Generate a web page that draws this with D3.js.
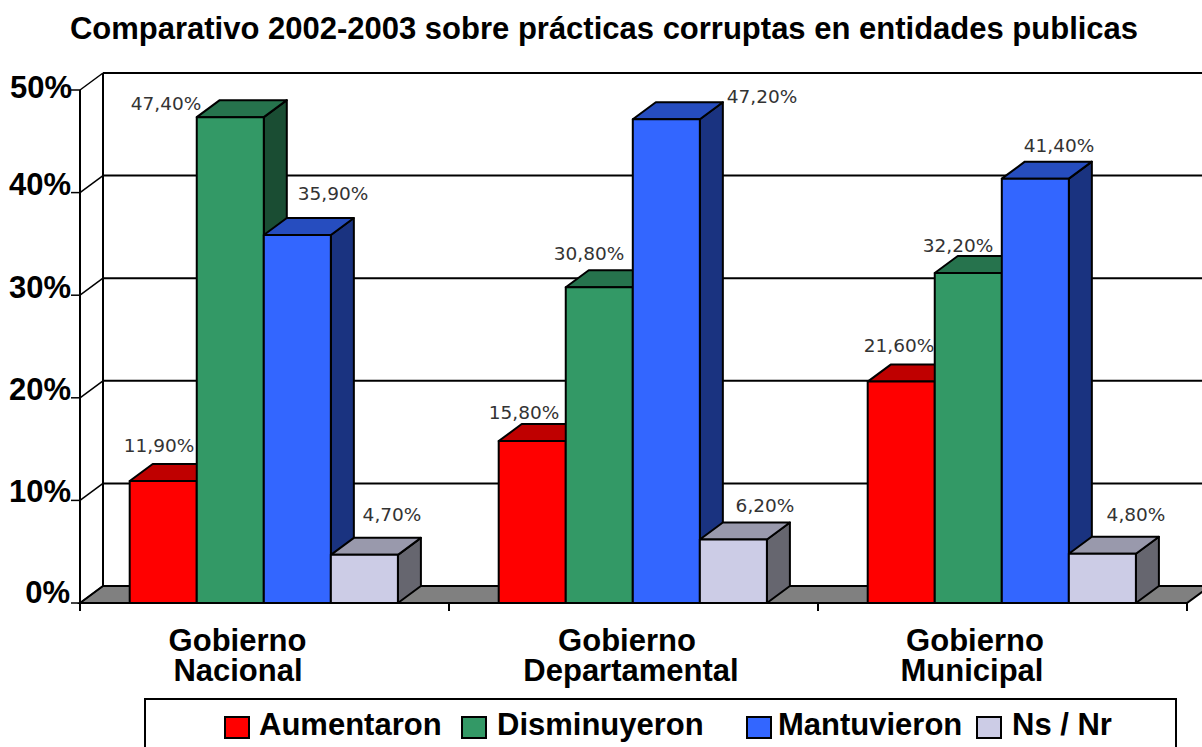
<!DOCTYPE html>
<html><head><meta charset="utf-8">
<script src="https://cdnjs.cloudflare.com/ajax/libs/d3/7.8.5/d3.min.js"></script>
<style>html,body{margin:0;padding:0;background:#fff;overflow:hidden}svg{display:block}text{font-family:"Liberation Sans",Arial,sans-serif}</style>
</head><body><svg id="c" width="1202" height="747"></svg>
<script>
const title = "Comparativo 2002-2003 sobre prácticas corruptas en entidades publicas";
const categories = ["Gobierno Nacional","Gobierno Departamental","Gobierno Municipal"];
const series = ["Aumentaron","Disminuyeron","Mantuvieron","Ns / Nr"];
const aumentaron = [11.9,15.8,21.6];
const disminuyeron = [47.4,30.8,32.2];
const mantuvieron = [35.9,47.2,41.4];
const nsNr = [4.7,6.2,4.8];
const valueLabels = [["11,90%","15,80%","21,60%"],["47,40%","30,80%","32,20%"],["35,90%","47,20%","41,40%"],["4,70%","6,20%","4,80%"]];
const yTicks = [0,10,20,30,40,50];
const fronts = ["#ff0000","#339966","#3366ff","#cccce6"];
const tops = ["#bf0000","#26734d","#264dbf","#9999ac"];
const sides = ["#800000","#1a4d33","#1a3380","#66666f"];

// layout
const values = [aumentaron,disminuyeron,mantuvieron,nsNr];
const dx = 23, dy = -17;
const x0 = d3.scaleBand().domain(categories).range([80,1187]);
const x1 = d3.scaleBand().domain(series).range([49.7,317.9]);
const y = d3.scaleLinear().domain([0,50]).range([603,90]);
const yBar = d3.scaleLinear().domain([0,50]).range([603,90.5]);
const labelCx = [159,166,333,392, 524,589,762,765, 899,958,1059,1136];
const labelBase = [452,110,200,521, 419,260,103,512, 352,252,152,521];
const tickBase = [603,502,400,298,195,98];
const tickRight = [70,71,71,71,71,72];
const catCx = [[237.5,238],[627,631],[975,972]];
const legendSwatch = [225,462,747,977];
const legendText = [259,497,778,1012];

const svg = d3.select("#c");
const BL = "#000";
svg.append("path").attr("d",d3.line()([[80,y(0)],[80+dx,y(0)+dy],[1187+dx,y(0)+dy],[1187,y(0)]])+"Z")
  .attr("fill","#808080").attr("stroke",BL).attr("stroke-width",2);
svg.selectAll("line.grid").data(yTicks.slice(1)).join("line").attr("class","grid")
  .attr("x1",80+dx).attr("x2",1202).attr("y1",d=>y(d)+dy).attr("y2",d=>y(d)+dy).attr("stroke",BL).attr("stroke-width",2);
svg.append("line").attr("x1",80+dx).attr("x2",80+dx).attr("y1",y(50)+dy).attr("y2",y(0)+dy).attr("stroke",BL).attr("stroke-width",2);
svg.selectAll("line.diag").data(yTicks).join("line").attr("class","diag")
  .attr("x1",80).attr("x2",80+dx).attr("y1",d=>y(d)).attr("y2",d=>y(d)+dy).attr("stroke",BL).attr("stroke-width",1.5);
svg.append("line").attr("x1",80).attr("x2",80).attr("y1",y(50)).attr("y2",611).attr("stroke",BL).attr("stroke-width",2);
svg.append("line").attr("x1",80).attr("x2",1187).attr("y1",y(0)).attr("y2",y(0)).attr("stroke",BL).attr("stroke-width",2);
svg.selectAll("line.yt").data(yTicks).join("line").attr("class","yt")
  .attr("x1",71).attr("x2",80).attr("y1",d=>y(d)).attr("y2",d=>y(d)).attr("stroke",BL).attr("stroke-width",1.5);
svg.selectAll("line.xt").data([...categories.map(c=>x0(c)),1187]).join("line").attr("class","xt")
  .attr("x1",d=>d).attr("x2",d=>d).attr("y1",603).attr("y2",611).attr("stroke",BL).attr("stroke-width",2);
svg.selectAll("text.yl").data(yTicks).join("text").attr("class","yl")
  .attr("x",(d,i)=>tickRight[i]).attr("y",(d,i)=>tickBase[i]).attr("text-anchor","end")
  .attr("font-size",31).attr("font-weight","bold").text(d=>d+"%");
categories.forEach((c,ci)=>{
  series.forEach((s,si)=>{
    const l=x0(c)+x1(s), r=l+x1.bandwidth(), t=yBar(values[si][ci]), b=y(0);
    const g=svg.append("g").attr("stroke",BL).attr("stroke-width",2).attr("stroke-linejoin","round");
    g.append("path").attr("d",d3.line()([[r,t],[r+dx,t+dy],[r+dx,b+dy],[r,b]])+"Z").attr("fill",sides[si]);
    g.append("path").attr("d",d3.line()([[l,t],[l+dx,t+dy],[r+dx,t+dy],[r,t]])+"Z").attr("fill",tops[si]);
    g.append("rect").attr("x",l).attr("y",t).attr("width",r-l).attr("height",b-t).attr("fill",fronts[si]);
  });
});
categories.forEach((c,ci)=>series.forEach((s,si)=>{
  const i=ci*4+si;
  svg.append("text").attr("x",labelCx[i]).attr("y",labelBase[i]).attr("text-anchor","middle")
    .attr("font-size",18.5).attr("fill","#333").style("font-family","'DejaVu Sans',Verdana,sans-serif")
    .text(valueLabels[si][ci]);
}));
svg.append("text").attr("x",604).attr("y",39).attr("text-anchor","middle").attr("font-size",31).attr("font-weight","bold").text(title);
categories.forEach((c,i)=>{
  const t=svg.append("text").attr("y",651).attr("text-anchor","middle").attr("font-size",31).attr("font-weight","bold");
  c.split(" ").forEach((w,j)=>t.append("tspan").attr("x",catCx[i][j]).attr("dy",j?30:0).text(w));
});
svg.append("rect").attr("x",145).attr("y",699).attr("width",1031).attr("height",80).attr("fill","#fff").attr("stroke",BL).attr("stroke-width",2);
series.forEach((s,i)=>{
  svg.append("rect").attr("x",legendSwatch[i]).attr("y",717).attr("width",24).attr("height",21).attr("fill",fronts[i]).attr("stroke",BL).attr("stroke-width",2);
  svg.append("text").attr("x",legendText[i]).attr("y",735).attr("font-size",31).attr("font-weight","bold").text(s);
});
</script></body></html>
